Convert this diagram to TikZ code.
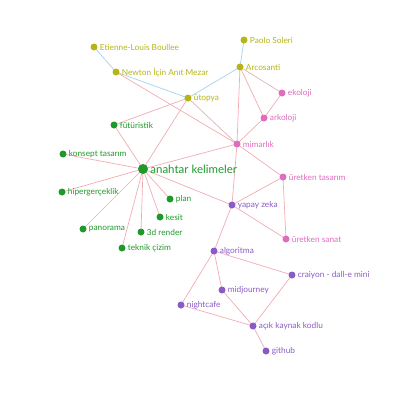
\documentclass[tikz,border=0pt]{standalone}
\usepackage{fontspec}
\setmainfont{Lato}
\usetikzlibrary{backgrounds}
\definecolor{cOl}{HTML}{B5B515}
\definecolor{cPk}{HTML}{E06CC0}
\definecolor{cGr}{HTML}{1E9A2A}
\definecolor{cPu}{HTML}{8A5AC6}
\definecolor{ePk}{HTML}{F3ABB3}
\definecolor{eBl}{HTML}{A2D2F0}
\definecolor{eBr}{HTML}{DDB4B8}
\begin{document}
\begin{tikzpicture}[x=1pt,y=-1pt,
  dot/.style={circle,inner sep=0pt,minimum size=7pt,fill=#1},
  bigdot/.style={circle,inner sep=0pt,minimum size=10pt,fill=#1},
  lbl/.style={font=\fontsize{8.3}{9}\selectfont,inner sep=0.5pt,text=#1},
  biglbl/.style={font=\fontsize{11.5}{13}\selectfont,inner sep=0.5pt,text=#1},
  label distance=1.5pt,
  epk/.style={draw=ePk,line width=0.7pt},
  ebl/.style={draw=eBl,line width=0.7pt},
  ebr/.style={draw=eBr,line width=0.7pt}]
\useasboundingbox (0,0) rectangle (400,400);
% olive
\node[dot=cOl,label={[lbl=cOl]right:Etienne-Louis Boullee}] (boul) at (94,47) {};
\node[dot=cOl,label={[lbl=cOl]right:Paolo Soleri}] (sol) at (244,40) {};
\node[dot=cOl,label={[lbl=cOl]right:Newton İçin Anıt Mezar}] (newt) at (116,72) {};
\node[dot=cOl,label={[lbl=cOl]right:Arcosanti}] (arco) at (240,67) {};
\node[dot=cOl,label={[lbl=cOl]right:ütopya}] (uto) at (188,98) {};
% pink
\node[dot=cPk,label={[lbl=cPk]right:ekoloji}] (eko) at (282,93) {};
\node[dot=cPk,label={[lbl=cPk]right:arkoloji}] (ark) at (264,118) {};
\node[dot=cPk,label={[lbl=cPk]right:mimarlık}] (mim) at (237,144) {};
\node[dot=cPk,label={[lbl=cPk]right:üretken tasarım}] (ut) at (283,177) {};
\node[dot=cPk,label={[lbl=cPk]right:üretken sanat}] (us) at (286,239) {};
% green
\node[dot=cGr,label={[lbl=cGr]right:fütüristik}] (fut) at (114,125) {};
\node[dot=cGr,label={[lbl=cGr]right:konsept tasarım}] (kon) at (63,154) {};
\node[bigdot=cGr,label={[biglbl=cGr]right:anahtar kelimeler}] (ana) at (143,169) {};
\node[dot=cGr,label={[lbl=cGr]right:hipergerçeklik}] (hip) at (62,192) {};
\node[dot=cGr,label={[lbl=cGr]right:plan}] (plan) at (170,199) {};
\node[dot=cGr,label={[lbl=cGr]right:kesit}] (kes) at (160,217) {};
\node[dot=cGr,label={[lbl=cGr]right:panorama}] (pan) at (83,229) {};
\node[dot=cGr,label={[lbl=cGr]right:3d render}] (ren) at (141,232) {};
\node[dot=cGr,label={[lbl=cGr]right:teknik çizim}] (tek) at (122,248) {};
% purple
\node[dot=cPu,label={[lbl=cPu]right:yapay zeka}] (yz) at (232,205) {};
\node[dot=cPu,label={[lbl=cPu]right:algoritma}] (alg) at (214,251) {};
\node[dot=cPu,label={[lbl=cPu]right:craiyon - dall-e mini}] (cra) at (292,275) {};
\node[dot=cPu,label={[lbl=cPu]right:midjourney}] (mid) at (222,290) {};
\node[dot=cPu,label={[lbl=cPu]right:nightcafe}] (nig) at (181,305) {};
\node[dot=cPu,label={[lbl=cPu]right:açık kaynak kodlu}] (aka) at (253,326) {};
\node[dot=cPu,label={[lbl=cPu]right:github}] (git) at (266,351) {};
\begin{pgfonlayer}{background}
\draw[ebl] (boul.center) -- (newt.center);
\draw[ebl] (sol.center) -- (arco.center);
\draw[ebl] (newt.center) -- (uto.center);
\draw[ebl] (arco.center) -- (uto.center);
\draw[ebr] (uto.center) -- (mim.center);
\draw[ebr] (arco.center) -- (eko.center);
\draw[epk] (newt.center) -- (mim.center);
\draw[epk] (uto.center) -- (fut.center);
\draw[epk] (uto.center) -- (ana.center);
\draw[epk] (arco.center) -- (mim.center);
\draw[epk] (arco.center) -- (ark.center);
\draw[epk] (eko.center) -- (ark.center);
\draw[epk] (ark.center) -- (mim.center);
\draw[epk] (mim.center) -- (ana.center);
\draw[epk] (mim.center) -- (yz.center);
\draw[epk] (mim.center) -- (ut.center);
\draw[epk] (fut.center) -- (ana.center);
\draw[epk] (ana.center) -- (kon.center);
\draw[epk] (ana.center) -- (hip.center);
\draw[epk] (ana.center) -- (pan.center);
\draw[epk] (ana.center) -- (tek.center);
\draw[epk] (ana.center) -- (ren.center);
\draw[epk] (ana.center) -- (kes.center);
\draw[epk] (ana.center) -- (plan.center);
\draw[epk] (ana.center) -- (yz.center);
\draw[epk] (ut.center) -- (yz.center);
\draw[epk] (ut.center) -- (us.center);
\draw[epk] (yz.center) -- (us.center);
\draw[epk] (yz.center) -- (alg.center);
\draw[epk] (alg.center) -- (mid.center);
\draw[epk] (alg.center) -- (nig.center);
\draw[epk] (alg.center) -- (cra.center);
\draw[epk] (cra.center) -- (aka.center);
\draw[epk] (mid.center) -- (aka.center);
\draw[epk] (nig.center) -- (aka.center);
\draw[epk] (aka.center) -- (git.center);
\end{pgfonlayer}
\end{tikzpicture}
\end{document}
